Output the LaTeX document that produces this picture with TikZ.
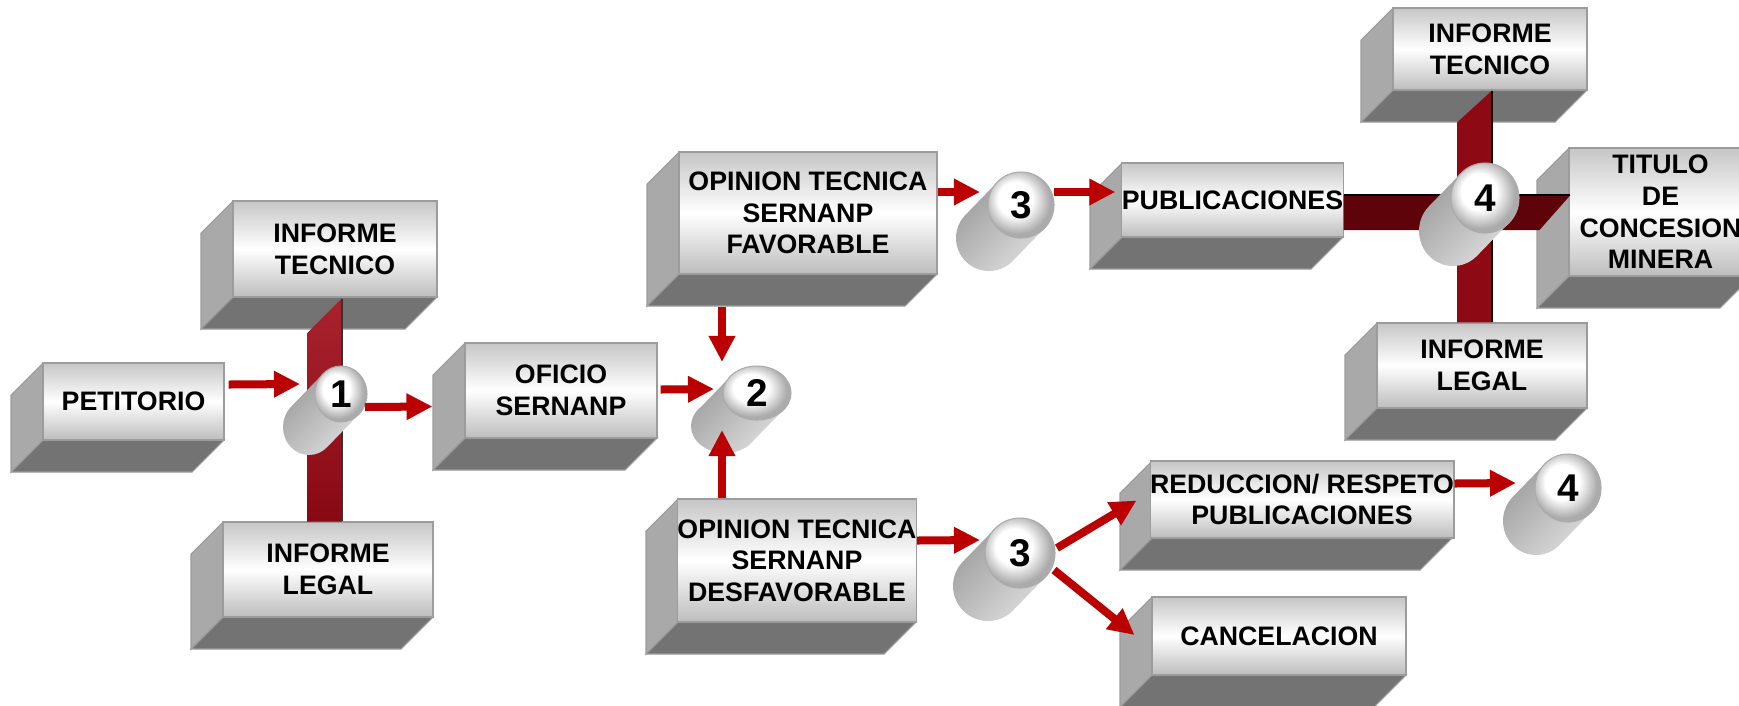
\documentclass[tikz,border=0pt]{standalone}
\usepackage{fontspec}
\setmainfont{Liberation Sans}
\usetikzlibrary{shapes.geometric,arrows.meta}

\definecolor{slabtop}{HTML}{C6C6C6}
\definecolor{slabbot}{HTML}{BDBDBD}
\definecolor{slabside}{HTML}{A9A9A9}
\definecolor{slabfloor}{HTML}{737373}
\definecolor{slabedge}{HTML}{9C9C9C}
\definecolor{flowred}{HTML}{BA0000}
\definecolor{barred}{HTML}{A00A16}
\definecolor{bardark}{HTML}{5E0309}
\definecolor{capgray}{HTML}{ABABAB}
\definecolor{drumdark}{HTML}{9E9E9E}
\definecolor{drumlight}{HTML}{DCDCDC}

\pgfdeclareradialshading{drumcap}{\pgfpoint{-6bp}{6bp}}{color(0bp)=(white); color(13bp)=(white); color(25bp)=(capgray); color(50bp)=(capgray)}

% slab: side and floor faces, the front face is the named node
\newcommand{\slab}[6]{%
  \filldraw[sideface] (#2,#3) -- ++(-32,32) -- (#2-32,#5+32) -- (#2,#5) -- cycle;
  \filldraw[floorface] (#2,#5) -- (#4,#5) -- ++(-32,32) -- (#2-32,#5+32) -- cycle;
  \node[frontface,minimum width={(#4-#2)*0.01cm},minimum height={(#5-#3)*0.01cm}] (#1) at ({(#2+#4)/2},{(#3+#5)/2}) {#6};}

% drum: body towards lower left, the cap is the named node
\newcommand{\drum}[6]{%
  \shade[drumbody] ({#2-0.707*#4},{#3-0.707*#5}) -- ++(-32,33)
    arc[start angle=-135,end angle=-315,x radius=#4,y radius=#5]
    -- ({#2+0.707*#4},{#3+0.707*#5}) -- cycle;
  \node[drumface,minimum width={2*#4*0.01cm},minimum height={2*#5*0.01cm}] (#1) at (#2,#3) {#6};}

\begin{document}
\begin{tikzpicture}[x=0.01cm,y=-0.01cm,
  frontface/.style={rectangle,draw=slabedge,line width=0.3pt,top color=slabtop,bottom color=slabbot,middle color=white,inner sep=0pt,align=center,font=\fontsize{7.6}{9}\selectfont\bfseries},
  sideface/.style={fill=slabside,draw=slabedge,line width=0.3pt},
  floorface/.style={fill=slabfloor,draw=slabedge,line width=0.3pt},
  drumbody/.style={top color=drumdark,bottom color=drumlight,shading angle=45},
  drumface/.style={ellipse,draw=capgray,line width=0.3pt,shading=drumcap,inner sep=0pt,font=\fontsize{11}{11}\selectfont\bfseries},
  flow/.style={draw=flowred,line width=0.08cm,-{Triangle[length=0.26cm,width=0.25cm]}}]
\clip (0,0) rectangle (1739,705);

\slab{pet}{43}{363}{224}{440}{PETITORIO}
\slab{itl}{233}{201}{437}{297}{INFORME\\TECNICO}
\slab{ill}{223}{522}{433}{617}{INFORME\\LEGAL}
\slab{ofi}{465}{343}{657}{438}{OFICIO\\SERNANP}
\slab{fav}{679}{152}{937}{274}{OPINION TECNICA\\SERNANP\\FAVORABLE}
\slab{des}{678}{499}{916}{622}{OPINION TECNICA\\SERNANP\\DESFAVORABLE}
\slab{pub}{1122}{163}{1343}{237}{PUBLICACIONES}
\slab{itr}{1393}{8}{1587}{90}{INFORME\\TECNICO}
\slab{ilr}{1377}{323}{1587}{408}{INFORME\\LEGAL}
\slab{tit}{1569}{148}{1752}{276}{TITULO\\DE\\CONCESION\\MINERA}
\slab{redu}{1152}{461}{1452}{538}{REDUCCION/ RESPETO\\PUBLICACIONES}
\slab{can}{1152}{597}{1406}{675}{CANCELACION}

% bars joining the informes
\fill[top color=barred!90!white,bottom color=barred!85!black] ([shift={(-28,36)}]itl.south) -- ([shift={(7,1)}]itl.south) -- ([shift={(14,0)}]ill.north) -- ([shift={(-21,0)}]ill.north) -- cycle;
\draw[black!80,line width=0.6pt] ([shift={(7,1)}]itl.south) -- ([shift={(14,0)}]ill.north);
\fill[bardark] ([shift={(0,-5)}]pub.east) -- ([shift={(2,-17)}]tit.west) -- ([shift={(-29,18)}]tit.west) -- ([shift={(0,30)}]pub.east) -- cycle;
\draw[black,line width=0.6pt] ([shift={(0,-5)}]pub.east) -- ([shift={(2,-17)}]tit.west);
\fill[barred!88!black] ([shift={(-33,32)}]itr.south) -- ([shift={(2,0)}]itr.south) -- ([shift={(10,0)}]ilr.north) -- ([shift={(-25,0)}]ilr.north) -- cycle;
\draw[black,line width=0.6pt] ([shift={(2,0)}]itr.south) -- ([shift={(10,0)}]ilr.north);

\drum{d1}{341}{394}{26}{28}{1}
\drum{d2}{757}{393}{34}{27}{2}
\drum{d3a}{1021}{205}{33}{33}{3}
\drum{d3b}{1020}{553}{35}{35}{3}
\drum{d4a}{1485}{198}{34}{35}{4}
\drum{d4b}{1568}{488}{33}{34}{4}

\draw[flow] ([shift={(4,-17)}]pet.east) -- ([shift={(-41,-10)}]d1.center);
\draw[flow] ([shift={(24,13)}]d1.center) -- ([shift={(-32,16)}]ofi.west);
\draw[flow] ([shift={(3,-1)}]ofi.east) -- ([shift={(-43,-4)}]d2.center);
\draw[flow] ([shift={(-86,32)}]fav.south) -- ([shift={(-35,-31)}]d2.center);
\draw[flow] ([shift={(-75,0)}]des.north) -- ([shift={(-35,37)}]d2.center);
\draw[flow] ([shift={(0,-21)}]fav.east) -- ([shift={(-41,-13)}]d3a.center);
\draw[flow] ([shift={(33,-13)}]d3a.center) -- ([shift={(-6,-8)}]pub.west);
\draw[flow] ([shift={(0,-20)}]des.east) -- ([shift={(-40,-13)}]d3b.center);
\draw[flow] ([shift={(37,-5)}]d3b.center) -- ([shift={(-13,1)}]redu.west);
\draw[flow] ([shift={(34,17)}]d3b.center) -- ([shift={(-17,-1)}]can.west);
\draw[flow] ([shift={(0,-16)}]redu.east) -- ([shift={(-52,-5)}]d4b.center);
\end{tikzpicture}
\end{document}
